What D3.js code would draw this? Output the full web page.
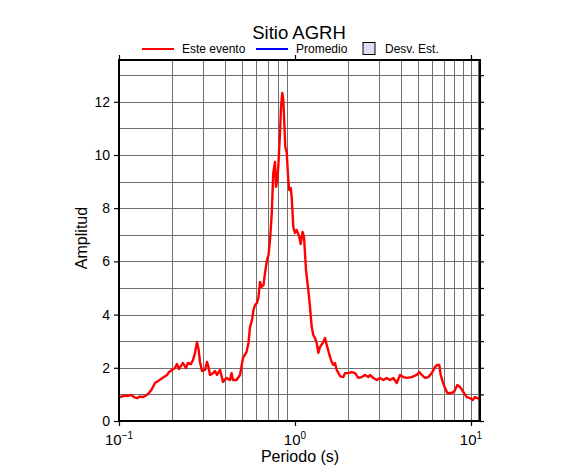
<!DOCTYPE html>
<html>
<head>
<meta charset="utf-8">
<script src="https://cdn.jsdelivr.net/npm/d3@7"></script>
<style>
    body { margin: 0; background: #fff; }
    text { font-family: "Liberation Sans", Arial, sans-serif; fill: #000; }
</style>
</head>
<body>
<div id="chart"></div>
<script>
// periodo (s) y amplitud del evento
var periods = [0.100, 0.104, 0.1082, 0.1125, 0.117, 0.1217, 0.1266, 0.1316, 0.1369, 0.1424,
    0.148, 0.154, 0.160, 0.1666, 0.1733, 0.180, 0.1874, 0.1923, 0.200, 0.208,
    0.2136, 0.2193, 0.225, 0.231, 0.2403, 0.2466, 0.2565, 0.2633, 0.2703, 0.2775,
    0.283, 0.2886, 0.2962, 0.308, 0.3162, 0.3225, 0.3288, 0.342, 0.351, 0.3604,
    0.3749, 0.3899, 0.4081, 0.4273, 0.4358, 0.4444, 0.4652, 0.487, 0.5065, 0.5302,
    0.5443, 0.555, 0.5697, 0.581, 0.5925, 0.6083, 0.6203, 0.6326, 0.6451, 0.6622,
    0.6753, 0.6932, 0.7069, 0.7211, 0.737, 0.7526, 0.7696, 0.7798, 0.7932, 0.8036,
    0.822, 0.8326, 0.8468, 0.858, 0.8693, 0.8808, 0.897, 0.916, 0.928, 0.9454,
    0.9579, 0.978, 1.0, 1.0226, 1.0578, 1.0775, 1.1031, 1.1249, 1.1548, 1.1902,
    1.2168, 1.2443, 1.2706, 1.299, 1.3284, 1.3565, 1.3868, 1.4481, 1.4808, 1.514,
    1.581, 1.6164, 1.6507, 1.6879, 1.7257, 1.8019, 1.8813, 1.9237, 2.0085, 2.1002,
    2.1928, 2.2894, 2.3933, 2.4988, 2.6092, 2.6676, 2.7855, 2.912, 3.0409, 3.1749,
    3.319, 3.4659, 3.6187, 3.7832, 3.9503, 4.1243, 4.3132, 4.6034, 4.9143, 5.0837,
    5.247, 5.4782, 5.7202, 5.98, 6.2451, 6.4353, 6.6066, 6.7283, 6.9071, 7.1187,
    7.3352, 7.67, 8.0084, 8.3626, 8.6622, 9.0452, 9.456, 9.87, 10.226, 10.537,
    10.86, 11.104];
var amplitudes = [0.90, 0.92, 0.96, 0.94, 0.98, 0.90, 0.86, 0.92, 0.90, 0.96,
    1.05, 1.20, 1.43, 1.50, 1.58, 1.65, 1.73, 1.84, 1.92, 1.99,
    2.14, 1.95, 2.07, 2.18, 1.99, 2.18, 2.14, 2.29, 2.56, 2.97,
    2.71, 2.22, 1.88, 1.92, 2.22, 2.03, 1.73, 1.80, 1.88, 1.73,
    1.92, 1.47, 1.62, 1.54, 1.80, 1.54, 1.54, 1.73, 2.37, 2.59,
    2.93, 3.53, 3.80, 4.17, 4.36, 4.44, 4.66, 5.23, 5.04, 5.11,
    5.56, 6.05, 6.24, 6.80, 7.74, 9.32, 9.74, 8.80, 9.06, 9.55,
    10.83, 11.80, 12.33, 12.07, 11.20, 10.30, 10.11, 9.06, 8.68, 8.76,
    8.42, 7.29, 7.07, 7.18, 6.92, 6.65, 7.11, 6.92, 5.68, 4.92,
    4.29, 3.53, 3.23, 3.12, 2.93, 2.56, 2.78, 2.97, 3.12, 2.86,
    2.41, 2.22, 2.11, 2.18, 1.92, 1.69, 1.65, 1.80, 1.80, 1.84,
    1.80, 1.62, 1.65, 1.73, 1.65, 1.73, 1.62, 1.54, 1.62, 1.54,
    1.62, 1.54, 1.62, 1.43, 1.73, 1.65, 1.62, 1.65, 1.73, 1.84,
    1.73, 1.62, 1.65, 1.80, 2.03, 2.11, 2.11, 1.73, 1.47, 1.24,
    1.05, 1.05, 1.09, 1.35, 1.28, 1.09, 0.90, 0.86, 0.79, 0.90,
    0.86, 0.83];

var xDomain = [0.1, 11.25];
var yDomain = [0, 13.57];
var yLabels = [0, 2, 4, 6, 8, 10, 12];
var yGrid = d3.range(1, 14);
var xDecades = [0.1, 1, 10];
var xGrid = [0.2, 0.3, 0.4, 0.5, 0.6, 0.7, 0.8, 0.9, 2, 3, 4, 5, 6, 7, 8, 9, 10, 11];
var decadeExp = ['\u22121', '0', '1'];

(function () {
    'use strict';

    var w = 586, h = 475,
        left = 119, right = 480, top = 60, bottom = 421;

    var x = d3.scaleLog().domain(xDomain).range([left, right]),
        y = d3.scaleLinear().domain(yDomain).range([bottom, top]);

    var svg = d3.select('#chart').append('svg')
        .attr('width', w)
        .attr('height', h);

    // grid
    var grid = svg.append('g').attr('stroke', '#707070').attr('stroke-width', 1);
    grid.selectAll('line.v').data(xGrid).enter().append('line')
        .attr('class', 'v')
        .attr('x1', function (d) { return Math.round(x(d)) + 0.5; })
        .attr('x2', function (d) { return Math.round(x(d)) + 0.5; })
        .attr('y1', top).attr('y2', bottom);
    grid.selectAll('line.h').data(yGrid).enter().append('line')
        .attr('class', 'h')
        .attr('y1', function (d) { return Math.round(y(d)) + 0.5; })
        .attr('y2', function (d) { return Math.round(y(d)) + 0.5; })
        .attr('x1', left).attr('x2', right);

    // curve
    var line = d3.line()
        .x(function (d) { return x(d[0]); })
        .y(function (d) { return y(d[1]); });
    svg.append('path')
        .datum(d3.zip(periods, amplitudes))
        .attr('fill', 'none')
        .attr('stroke', '#ff0000')
        .attr('stroke-width', 2.4)
        .attr('stroke-linejoin', 'round')
        .attr('d', line);

    // axes
    var axL = svg.append('g').attr('transform', 'translate(' + left + ',0)')
        .call(d3.axisLeft(y).tickValues(yLabels).tickSize(5).tickPadding(4).tickFormat(d3.format('d')));
    var axR = svg.append('g').attr('transform', 'translate(' + right + ',0)')
        .call(d3.axisRight(y).tickValues(d3.range(0, 14)).tickSize(4).tickFormat(''));
    var axB = svg.append('g').attr('transform', 'translate(0,' + bottom + ')')
        .call(d3.axisBottom(x).tickValues(xDecades).tickSize(5).tickPadding(6).tickFormat(''));
    var axT = svg.append('g').attr('transform', 'translate(0,' + top + ')')
        .call(d3.axisTop(x).tickValues(xDecades).tickSize(5).tickFormat(''));

    [axL, axR, axB, axT].forEach(function (a) {
        a.select('.domain').remove();
        a.selectAll('.tick line').attr('stroke', '#000').attr('stroke-width', 1.2);
        a.selectAll('text').attr('font-size', 14).attr('fill', '#000')
            .style('font-family', '"Liberation Sans", Arial, sans-serif');
    });

    svg.append('rect')
        .attr('x', left).attr('y', top)
        .attr('width', right - left).attr('height', bottom - top)
        .attr('fill', 'none').attr('stroke', '#000').attr('stroke-width', 2);

    // decade labels 10^n
    var dl = svg.append('g').selectAll('text').data(xDecades).enter().append('text')
        .attr('x', function (d) { return x(d); })
        .attr('y', bottom + 24)
        .attr('text-anchor', 'middle')
        .attr('font-size', 15);
    dl.append('tspan').text('10');
    dl.append('tspan')
        .attr('font-size', 10)
        .attr('dy', -6)
        .text(function (d, i) { return decadeExp[i]; });

    // labels
    svg.append('text')
        .attr('x', 299).attr('y', 38.5)
        .attr('text-anchor', 'middle')
        .attr('font-size', 18.5)
        .text('Sitio AGRH');
    svg.append('text')
        .attr('x', 300).attr('y', 462)
        .attr('text-anchor', 'middle')
        .attr('font-size', 16)
        .text('Periodo (s)');
    svg.append('text')
        .attr('transform', 'translate(87,238) rotate(-90)')
        .attr('text-anchor', 'middle')
        .attr('font-size', 16)
        .text('Amplitud');

    // legend
    var lg = svg.append('g').attr('font-size', 12);
    lg.append('line').attr('x1', 142).attr('x2', 174).attr('y1', 49).attr('y2', 49)
        .attr('stroke', '#ff0000').attr('stroke-width', 2);
    lg.append('text').attr('x', 182).attr('y', 53).text('Este evento');
    lg.append('line').attr('x1', 256).attr('x2', 288).attr('y1', 49).attr('y2', 49)
        .attr('stroke', '#0000ff').attr('stroke-width', 2);
    lg.append('text').attr('x', 296).attr('y', 53).text('Promedio');
    lg.append('rect').attr('x', 363).attr('y', 42.5).attr('width', 12).attr('height', 12)
        .attr('fill', '#dcdcf5').attr('stroke', '#000').attr('stroke-width', 1);
    lg.append('text').attr('x', 385).attr('y', 53).text('Desv. Est.');
})();
</script>
</body>
</html>
